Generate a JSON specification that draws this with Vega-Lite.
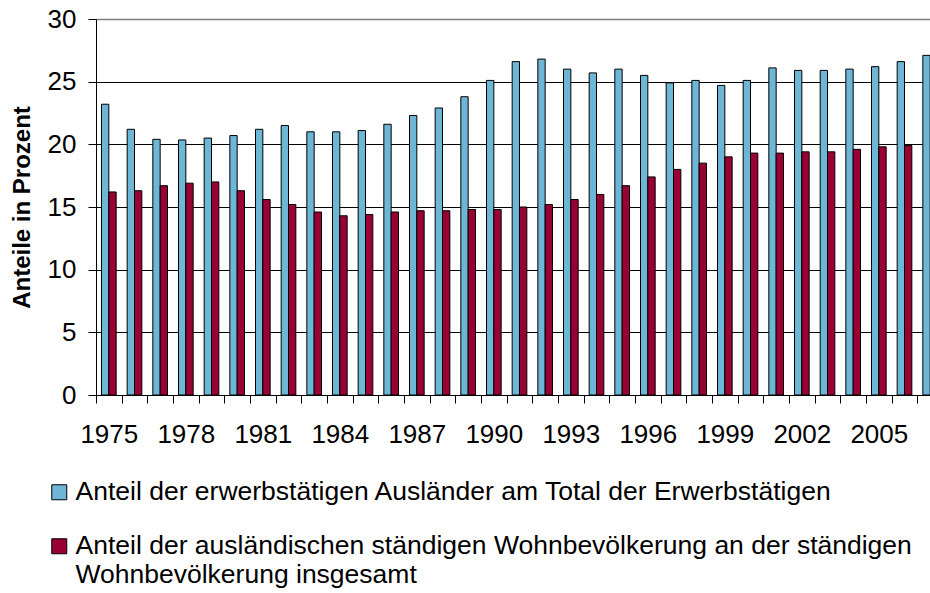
{
  "$schema": "https://vega.github.io/schema/vega-lite/v6.json",
  "width": 834,
  "height": 376,
  "autosize": {"type": "none"},
  "padding": {"left": 96, "top": 19, "right": 0, "bottom": 198},
  "background": "white",
  "config": {"font": "Liberation Sans", "view": {"stroke": null}},
  "data": {"values": [
    {"year": 1975, "series": "A", "value": 23.2}, {"year": 1975, "series": "B", "value": 16.2},
    {"year": 1976, "series": "A", "value": 21.2}, {"year": 1976, "series": "B", "value": 16.3},
    {"year": 1977, "series": "A", "value": 20.4}, {"year": 1977, "series": "B", "value": 16.7},
    {"year": 1978, "series": "A", "value": 20.35}, {"year": 1978, "series": "B", "value": 16.9},
    {"year": 1979, "series": "A", "value": 20.5}, {"year": 1979, "series": "B", "value": 17.0},
    {"year": 1980, "series": "A", "value": 20.7}, {"year": 1980, "series": "B", "value": 16.3},
    {"year": 1981, "series": "A", "value": 21.2}, {"year": 1981, "series": "B", "value": 15.6},
    {"year": 1982, "series": "A", "value": 21.5}, {"year": 1982, "series": "B", "value": 15.2},
    {"year": 1983, "series": "A", "value": 21.0}, {"year": 1983, "series": "B", "value": 14.6},
    {"year": 1984, "series": "A", "value": 21.0}, {"year": 1984, "series": "B", "value": 14.3},
    {"year": 1985, "series": "A", "value": 21.1}, {"year": 1985, "series": "B", "value": 14.4},
    {"year": 1986, "series": "A", "value": 21.6}, {"year": 1986, "series": "B", "value": 14.6},
    {"year": 1987, "series": "A", "value": 22.3}, {"year": 1987, "series": "B", "value": 14.7},
    {"year": 1988, "series": "A", "value": 22.9}, {"year": 1988, "series": "B", "value": 14.7},
    {"year": 1989, "series": "A", "value": 23.8}, {"year": 1989, "series": "B", "value": 14.8},
    {"year": 1990, "series": "A", "value": 25.1}, {"year": 1990, "series": "B", "value": 14.8},
    {"year": 1991, "series": "A", "value": 26.6}, {"year": 1991, "series": "B", "value": 15.0},
    {"year": 1992, "series": "A", "value": 26.8}, {"year": 1992, "series": "B", "value": 15.2},
    {"year": 1993, "series": "A", "value": 26.0}, {"year": 1993, "series": "B", "value": 15.6},
    {"year": 1994, "series": "A", "value": 25.7}, {"year": 1994, "series": "B", "value": 16.0},
    {"year": 1995, "series": "A", "value": 26.0}, {"year": 1995, "series": "B", "value": 16.7},
    {"year": 1996, "series": "A", "value": 25.5}, {"year": 1996, "series": "B", "value": 17.4},
    {"year": 1997, "series": "A", "value": 24.9}, {"year": 1997, "series": "B", "value": 18.0},
    {"year": 1998, "series": "A", "value": 25.1}, {"year": 1998, "series": "B", "value": 18.5},
    {"year": 1999, "series": "A", "value": 24.7}, {"year": 1999, "series": "B", "value": 19.0},
    {"year": 2000, "series": "A", "value": 25.1}, {"year": 2000, "series": "B", "value": 19.3},
    {"year": 2001, "series": "A", "value": 26.1}, {"year": 2001, "series": "B", "value": 19.3},
    {"year": 2002, "series": "A", "value": 25.9}, {"year": 2002, "series": "B", "value": 19.4},
    {"year": 2003, "series": "A", "value": 25.9}, {"year": 2003, "series": "B", "value": 19.4},
    {"year": 2004, "series": "A", "value": 26.0}, {"year": 2004, "series": "B", "value": 19.6},
    {"year": 2005, "series": "A", "value": 26.2}, {"year": 2005, "series": "B", "value": 19.8},
    {"year": 2006, "series": "A", "value": 26.6}, {"year": 2006, "series": "B", "value": 19.9},
    {"year": 2007, "series": "A", "value": 27.1}
  ]},
  "mark": {"type": "bar", "stroke": "black", "strokeWidth": 1, "clip": true},
  "encoding": {
    "x": {
      "field": "year", "type": "ordinal",
      "scale": {"range": [0, 847], "paddingInner": 0, "paddingOuter": 0},
      "axis": {
        "title": null, "labelAngle": 0, "labelFontSize": 26, "labelColor": "black",
        "labelPadding": 18, "tickSize": 8, "tickBand": "extent", "tickColor": "black",
        "domainColor": "black", "grid": false, "labelOverlap": false,
        "labelExpr": "(datum.value - 1975) % 3 == 0 ? datum.label : ''"
      }
    },
    "xOffset": {"field": "series", "type": "nominal", "scale": {"domain": ["A", "B"], "paddingInner": 0, "paddingOuter": 0.75}},
    "y": {
      "field": "value", "type": "quantitative",
      "scale": {"domain": [0, 30], "nice": false},
      "axis": {
        "title": "Anteile in Prozent", "titleFontSize": 24, "titleFontWeight": "bold", "titleColor": "black",
        "titleX": -74, "titleY": 188, "titleAngle": 270, "titleBaseline": "middle", "titleAlign": "center",
        "labelFontSize": 26, "labelColor": "black", "labelPadding": 12, "tickSize": 8, "tickColor": "black",
        "domainColor": "black", "values": [0, 5, 10, 15, 20, 25, 30],
        "gridColor": {"condition": {"test": "datum.value == 30", "value": "#808080"}, "value": "black"},
        "gridWidth": {"condition": {"test": "datum.value == 30", "value": 1.5}, "value": 1}
      }
    },
    "color": {
      "field": "series", "type": "nominal",
      "scale": {"domain": ["A", "B"], "range": ["#6DB6D6", "#990033"]},
      "legend": {
        "orient": "none", "legendX": -50, "legendY": 460, "direction": "vertical", "title": null,
        "labelFontSize": 26.5, "labelColor": "black", "labelLimit": 0, "labelOffset": 3,
        "symbolType": "square", "symbolSize": 225, "symbolStrokeColor": "black", "symbolStrokeWidth": 1,
        "symbolOpacity": 1, "rowPadding": 27,
        "labelExpr": "datum.value == 'A' ? 'Anteil der erwerbstätigen Ausländer am Total der Erwerbstätigen' : ['Anteil der ausländischen ständigen Wohnbevölkerung an der ständigen', 'Wohnbevölkerung insgesamt']"
      }
    }
  }
}
